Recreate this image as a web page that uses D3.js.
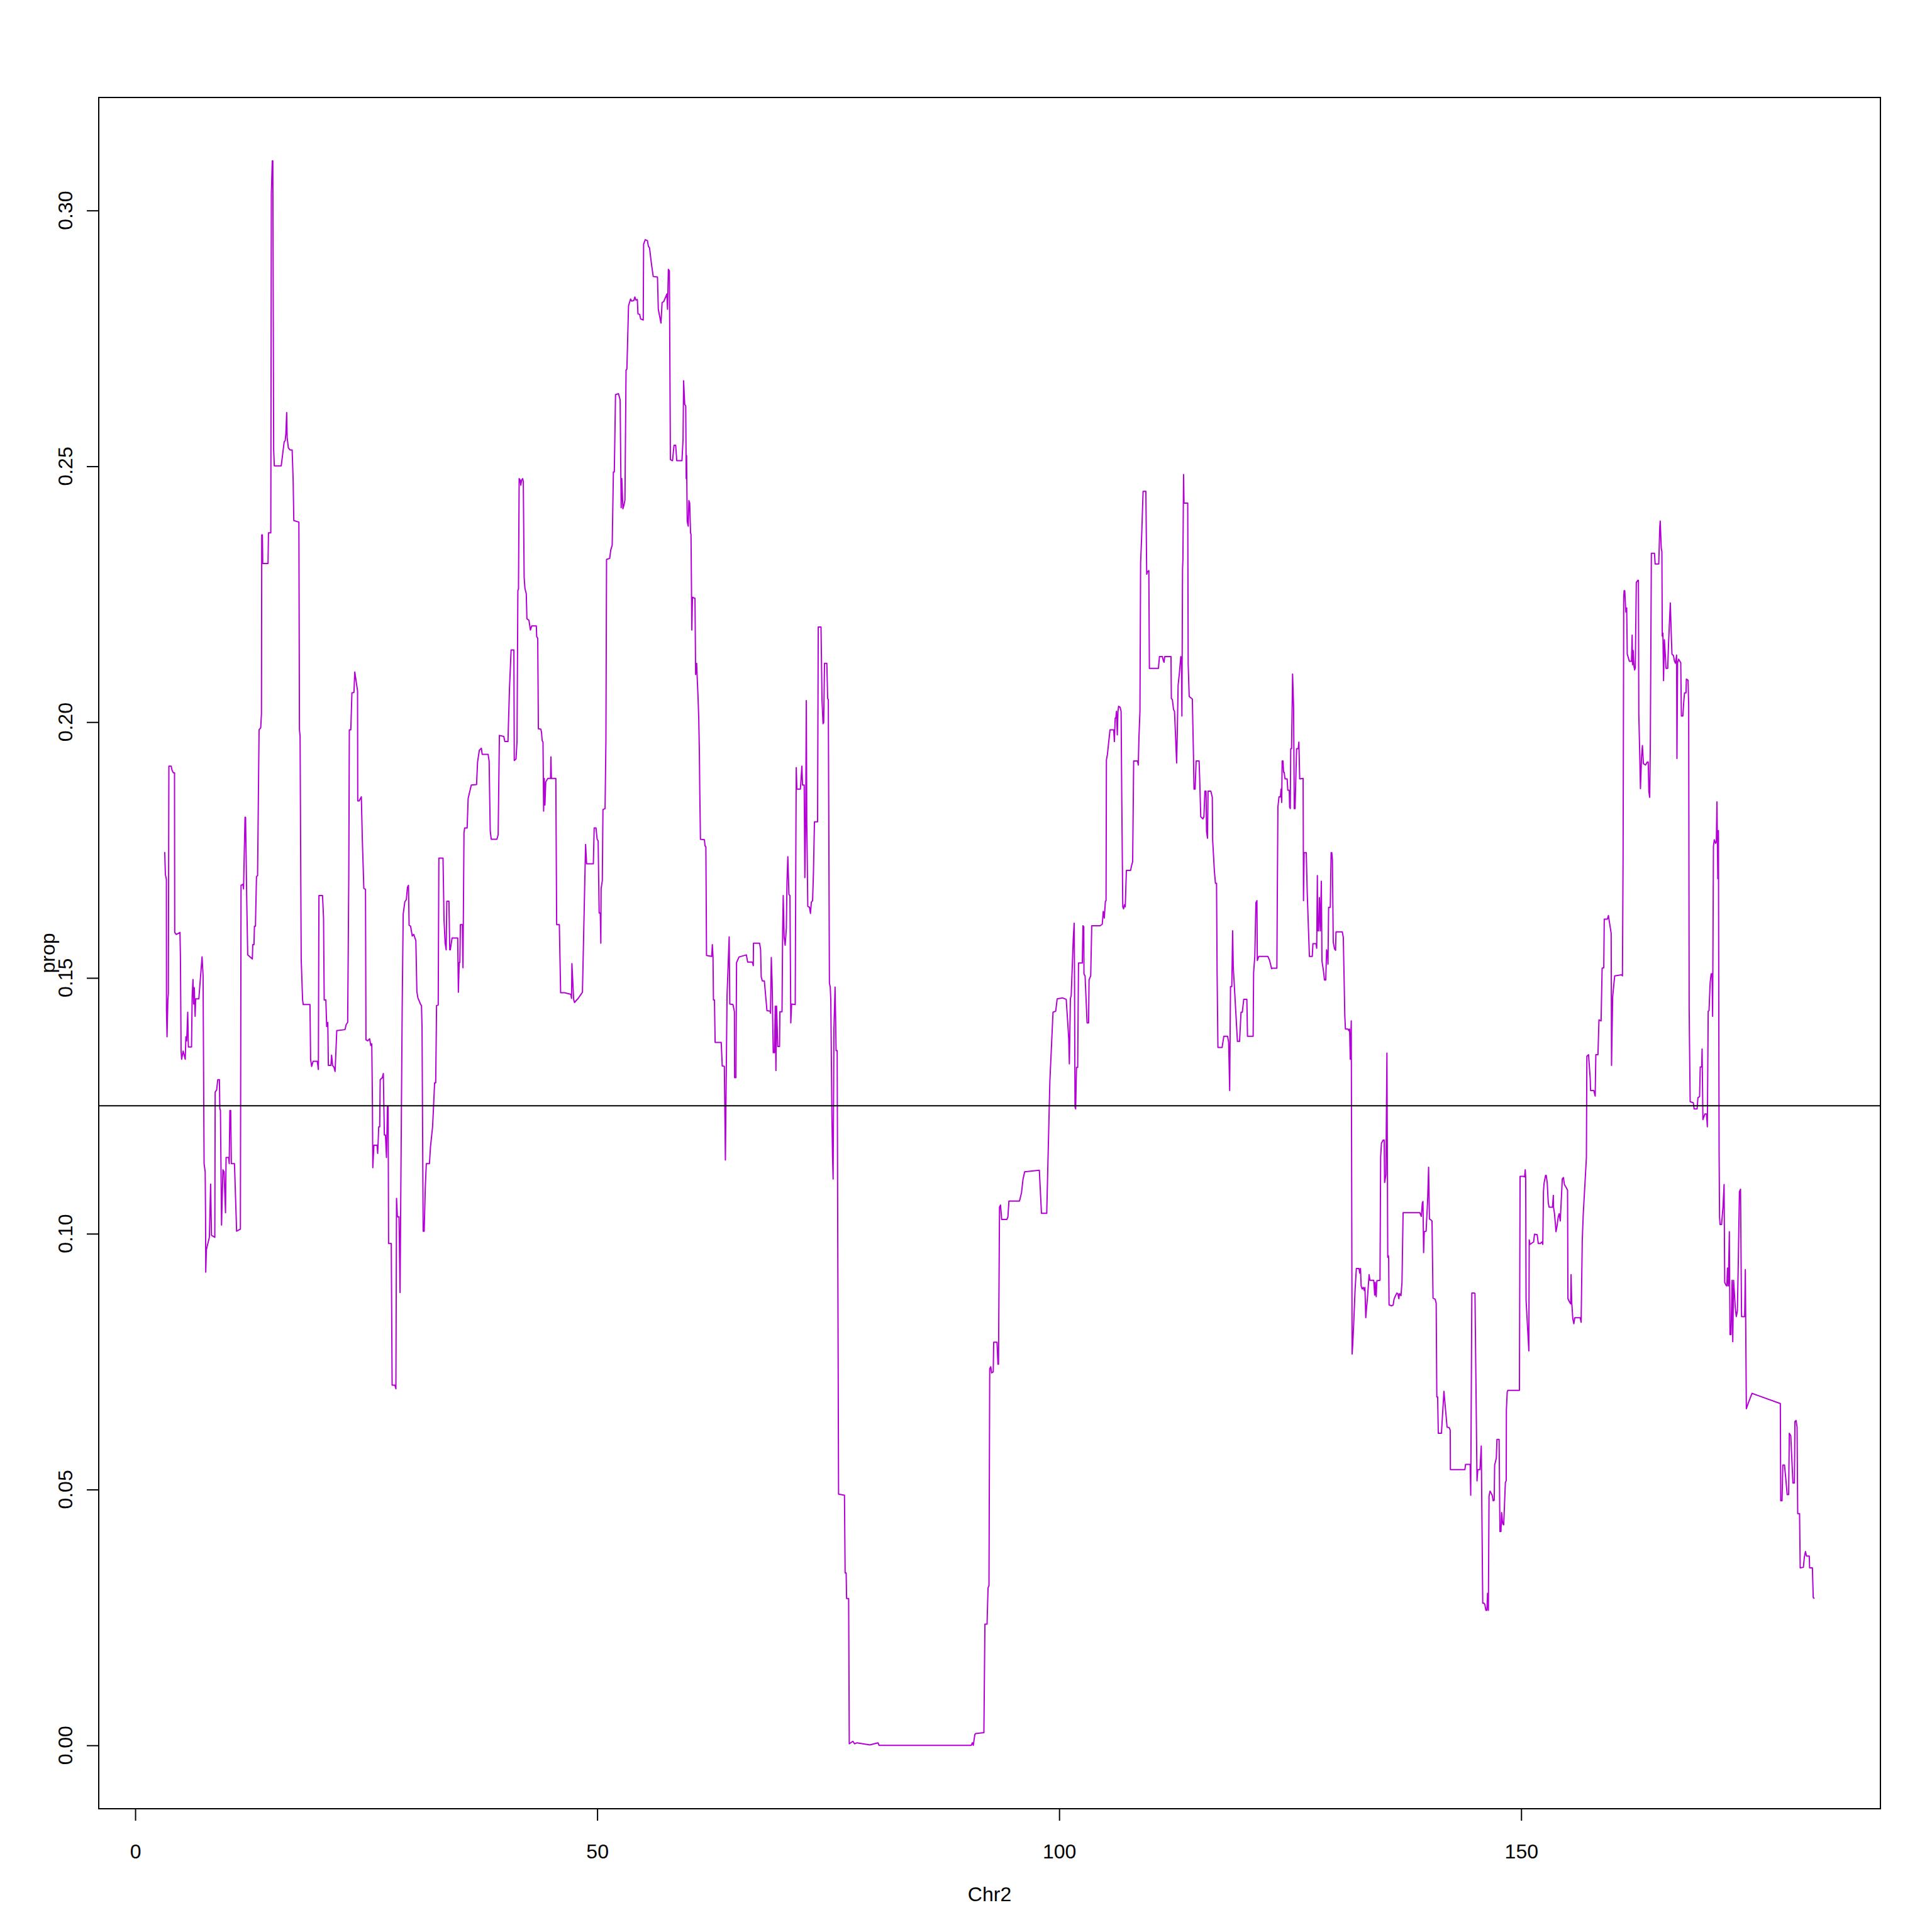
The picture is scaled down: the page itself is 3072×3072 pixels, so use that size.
<!DOCTYPE html>
<html>
<head>
<meta charset="utf-8">
<script src="https://cdn.jsdelivr.net/npm/d3@7"></script>
<style>
  body { margin: 0; background: #fff; }
  text { font-family: "Liberation Sans", Arial, Helvetica, sans-serif; font-size: 32px; fill: #000; }
</style>
</head>
<body>
<div id="chart"></div>
<script>
// position (Mb) and proportion
const track = [
  [3.19,0.1746],[3.26,0.1702],[3.37,0.1693],[3.38,0.1437],[3.44,0.1385],[3.53,0.1457],[3.58,0.1470],[3.64,0.1914],
  [3.89,0.1914],[3.98,0.1906],[4.12,0.1901],[4.25,0.1901],[4.27,0.1589],[4.44,0.1585],[4.84,0.1589],[4.89,0.1541],
  [4.96,0.1357],[5.02,0.1341],[5.18,0.1357],[5.41,0.1341],[5.48,0.1385],[5.57,0.1377],[5.68,0.1433],[5.75,0.1365],
  [6.09,0.1365],[6.16,0.1465],[6.25,0.1497],[6.32,0.1449],[6.39,0.1481],[6.48,0.1425],[6.54,0.1459],[6.88,0.1459],
  [7.23,0.1541],[7.34,0.1505],[7.45,0.1137],[7.57,0.1121],[7.61,0.1033],[7.63,0.0925],[7.70,0.0969],[8.02,0.0993],
  [8.16,0.1097],[8.25,0.0997],[8.61,0.0993],[8.65,0.1277],[8.81,0.1281],[8.93,0.1301],[9.11,0.1301],[9.15,0.1245],
  [9.22,0.1241],[9.34,0.1017],[9.49,0.1125],[9.61,0.1121],[9.77,0.1041],[9.83,0.1149],[10.11,0.1149],[10.17,0.1137],
  [10.24,0.1241],[10.33,0.1241],[10.40,0.1137],[10.74,0.1137],[10.97,0.1005],[11.38,0.1009],[11.45,0.1681],[11.65,0.1683],
  [11.72,0.1674],[11.88,0.1814],[11.94,0.1814],[12.06,0.1661],[12.17,0.1545],[12.67,0.1537],[12.72,0.1565],[12.85,0.1565],
  [12.90,0.1601],[13.01,0.1601],[13.12,0.1698],[13.24,0.1700],[13.40,0.1985],[13.58,0.1989],[13.66,0.2017],[13.69,0.2366],
  [13.76,0.2366],[13.80,0.2310],[14.37,0.2310],[14.42,0.2370],[14.67,0.2370],[14.73,0.3032],[14.83,0.3097],[14.89,0.3097],
  [14.98,0.2532],[15.05,0.2501],[15.80,0.2501],[16.12,0.2548],[16.23,0.2550],[16.30,0.2564],[16.39,0.2605],[16.44,0.2556],
  [16.57,0.2536],[16.75,0.2532],[16.98,0.2532],[17.09,0.2473],[17.16,0.2394],[17.71,0.2391],[17.77,0.1985],[17.84,0.1973],
  [17.96,0.1537],[18.11,0.1457],[18.18,0.1448],[18.91,0.1448],[18.98,0.1341],[19.09,0.1327],[19.25,0.1337],[19.70,0.1337],
  [19.82,0.1321],[19.88,0.1661],[20.27,0.1661],[20.38,0.1617],[20.45,0.1457],[20.63,0.1457],[20.72,0.1405],[20.84,0.1413],
  [20.90,0.1329],[21.18,0.1329],[21.25,0.1349],[21.36,0.1329],[21.52,0.1325],[21.63,0.1317],[21.81,0.1397],[22.70,0.1399],
  [22.83,0.1409],[22.99,0.1413],[23.11,0.1697],[23.17,0.1985],[23.33,0.1985],[23.45,0.2057],[23.67,0.2058],[23.76,0.2098],
  [24.06,0.2061],[24.08,0.1846],[24.24,0.1846],[24.47,0.1854],[24.58,0.1769],[24.74,0.1675],[24.92,0.1673],[24.97,0.1379],
  [25.15,0.1377],[25.37,0.1381],[25.49,0.1368],[25.60,0.1371],[25.67,0.1254],[25.71,0.1129],[25.83,0.1173],[26.17,0.1173],
  [26.24,0.1157],[26.35,0.1209],[26.46,0.1209],[26.51,0.1301],[26.74,0.1305],[26.85,0.1313],[26.96,0.1193],[27.08,0.1193],
  [27.19,0.1149],[27.30,0.1249],[27.37,0.1249],[27.42,0.0981],[27.71,0.0981],[27.80,0.0704],[28.10,0.0704],[28.21,0.0697],
  [28.28,0.1069],[28.37,0.1033],[28.55,0.1033],[28.66,0.0885],[28.89,0.1441],[29.00,0.1625],[29.18,0.1649],[29.34,0.1653],
  [29.46,0.1677],[29.57,0.1681],[29.64,0.1603],[29.80,0.1601],[29.98,0.1582],[30.14,0.1585],[30.37,0.1573],[30.48,0.1473],
  [30.59,0.1461],[30.89,0.1448],[30.98,0.1446],[31.04,0.1402],[31.16,0.1005],[31.27,0.1005],[31.39,0.1089],[31.50,0.1137],
  [31.84,0.1137],[31.95,0.1169],[32.18,0.1209],[32.25,0.1235],[32.40,0.1295],[32.52,0.1295],[32.61,0.1446],[32.79,0.1447],
  [32.86,0.1734],[33.31,0.1734],[33.42,0.1613],[33.54,0.1568],[33.65,0.1555],[33.72,0.1650],[33.95,0.1650],[34.04,0.1555],
  [34.10,0.1555],[34.29,0.1578],[34.90,0.1578],[34.97,0.1472],[35.06,0.1530],[35.13,0.1530],[35.19,0.1604],[35.40,0.1604],
  [35.47,0.1520],[35.58,0.1784],[35.65,0.1793],[35.92,0.1793],[36.03,0.1851],[36.37,0.1877],[36.94,0.1878],[37.05,0.1922],
  [37.24,0.1945],[37.46,0.1949],[37.55,0.1937],[38.19,0.1937],[38.30,0.1924],[38.42,0.1787],[38.53,0.1771],[39.14,0.1771],
  [39.28,0.1780],[39.41,0.1974],[39.89,0.1972],[40.00,0.1962],[40.34,0.1962],[40.50,0.2064],[40.68,0.2141],[40.98,0.2141],
  [41.02,0.1925],[41.21,0.1928],[41.32,0.1962],[41.41,0.2257],[41.48,0.2260],[41.55,0.2476],[41.66,0.2473],[41.73,0.2463],
  [41.82,0.2473],[41.93,0.2476],[42.00,0.2470],[42.09,0.2283],[42.18,0.2261],[42.32,0.2251],[42.39,0.2202],[42.61,0.2199],
  [42.77,0.2180],[42.91,0.2188],[43.41,0.2188],[43.45,0.2167],[43.56,0.2164],[43.63,0.1987],[43.90,0.1986],[43.97,0.1980],
  [44.04,0.1964],[44.13,0.1961],[44.20,0.1826],[44.27,0.1890],[44.34,0.1838],[44.43,0.1883],[44.65,0.1890],[44.95,0.1890],
  [44.99,0.1932],[45.04,0.1890],[45.52,0.1890],[45.61,0.1604],[45.90,0.1604],[46.04,0.1471],[46.47,0.1471],[47.15,0.1468],
  [47.22,0.1460],[47.26,0.1528],[47.45,0.1458],[47.54,0.1452],[47.94,0.1460],[48.17,0.1466],[48.40,0.1472],[48.74,0.1761],
  [48.85,0.1723],[49.58,0.1723],[49.67,0.1793],[49.87,0.1793],[49.99,0.1771],[50.10,0.1768],[50.21,0.1627],[50.33,0.1627],
  [50.39,0.1568],[50.42,0.1674],[50.55,0.1690],[50.62,0.1829],[50.85,0.1831],[50.94,0.1962],[51.01,0.2318],[51.35,0.2320],
  [51.46,0.2336],[51.62,0.2346],[51.75,0.2489],[51.85,0.2489],[51.98,0.2640],[52.30,0.2642],[52.48,0.2630],[52.59,0.2419],
  [52.66,0.2476],[52.78,0.2417],[52.89,0.2424],[53.00,0.2434],[53.12,0.2688],[53.21,0.2690],[53.39,0.2814],[53.61,0.2827],
  [53.73,0.2823],[53.96,0.2824],[54.07,0.2831],[54.18,0.2825],[54.34,0.2826],[54.41,0.2798],[54.59,0.2797],[54.70,0.2788],
  [54.98,0.2786],[55.02,0.2934],[55.20,0.2943],[55.43,0.2941],[55.54,0.2930],[55.66,0.2927],[55.88,0.2894],[56.06,0.2871],
  [56.52,0.2870],[56.61,0.2807],[56.90,0.2780],[57.02,0.2820],[57.20,0.2822],[57.43,0.2832],[57.54,0.2837],[57.61,0.2807],
  [57.70,0.2885],[57.81,0.2882],[57.92,0.2513],[58.15,0.2511],[58.31,0.2541],[58.49,0.2541],[58.61,0.2511],[59.17,0.2511],
  [59.29,0.2553],[59.35,0.2667],[59.47,0.2621],[59.58,0.2618],[59.63,0.2476],[59.67,0.2521],[59.74,0.2392],[59.85,0.2383],
  [59.92,0.2433],[60.01,0.2428],[60.10,0.2370],[60.15,0.2367],[60.24,0.2180],[60.31,0.2244],[60.58,0.2242],[60.65,0.2093],
  [60.76,0.2115],[60.83,0.2083],[60.92,0.2045],[60.99,0.2006],[61.06,0.1935],[61.10,0.1864],[61.17,0.1771],[61.60,0.1770],
  [61.67,0.1758],[61.76,0.1756],[61.83,0.1544],[62.39,0.1542],[62.46,0.1565],[62.53,0.1542],[62.58,0.1457],[62.69,0.1457],
  [62.76,0.1374],[63.42,0.1374],[63.53,0.1328],[63.60,0.1328],[63.76,0.1327],[63.87,0.1144],[64.05,0.1465],[64.28,0.1580],
  [64.35,0.1449],[64.69,0.1448],[64.85,0.1434],[64.87,0.1305],[65.01,0.1305],[65.08,0.1530],[65.35,0.1541],[66.14,0.1545],
  [66.28,0.1531],[66.78,0.1531],[66.89,0.1524],[66.91,0.1568],[67.57,0.1568],[67.68,0.1556],[67.75,0.1502],[67.87,0.1494],
  [68.09,0.1494],[68.37,0.1436],[68.71,0.1435],[68.75,0.1431],[68.84,0.1540],[68.93,0.1490],[69.05,0.1354],[69.18,0.1354],
  [69.27,0.1445],[69.34,0.1319],[69.41,0.1445],[69.54,0.1366],[69.73,0.1366],[69.77,0.1434],[70.00,0.1434],[70.07,0.1593],
  [70.13,0.1661],[70.23,0.1580],[70.34,0.1564],[70.47,0.1597],[70.54,0.1688],[70.63,0.1737],[70.75,0.1663],[70.86,0.1661],
  [70.95,0.1412],[71.04,0.1449],[71.43,0.1448],[71.50,0.1762],[71.54,0.1911],[71.61,0.1869],[71.99,0.1869],[72.15,0.1914],
  [72.22,0.1877],[72.40,0.1877],[72.47,0.1696],[72.56,0.1807],[72.63,0.2042],[72.68,0.1807],[72.79,0.1640],[72.97,0.1638],
  [73.08,0.1626],[73.17,0.1648],[73.31,0.1651],[73.40,0.1704],[73.51,0.1805],[73.85,0.1805],[73.92,0.2186],[74.22,0.2186],
  [74.33,0.2042],[74.44,0.1997],[74.51,0.1999],[74.60,0.2115],[74.85,0.2115],[74.94,0.2046],[75.01,0.2044],[75.13,0.1490],
  [75.22,0.1482],[75.28,0.1457],[75.40,0.1231],[75.47,0.1150],[75.53,0.1107],[75.62,0.1400],[75.74,0.1482],[75.81,0.1412],
  [75.85,0.1358],[75.97,0.1358],[76.12,0.0491],[76.76,0.0489],[76.83,0.0337],[76.94,0.0337],[76.99,0.0287],[77.21,0.0287],
  [77.28,0.0003],[77.67,0.0008],[77.85,0.0003],[78.12,0.0005],[79.50,0.0001],[80.39,0.0005],[80.50,0],[83.00,0],
  [86.00,0],[90.48,0],[90.60,0.0005],[90.70,0],[90.87,0.0021],[90.94,0.0023],[91.85,0.0025],[91.96,0.0237],
  [92.19,0.0237],[92.30,0.0308],[92.40,0.0312],[92.48,0.0736],[92.59,0.0740],[92.68,0.0728],[92.86,0.0730],[92.91,0.0788],
  [93.27,0.0788],[93.37,0.0745],[93.43,0.0745],[93.54,0.1052],[93.65,0.1056],[93.77,0.1028],[94.34,0.1028],[94.45,0.1033],
  [94.56,0.1064],[95.70,0.1064],[95.81,0.1072],[95.92,0.1080],[96.08,0.1106],[96.26,0.1121],[97.85,0.1124],[98.08,0.1040],
  [98.65,0.1040],[98.99,0.1298],[99.33,0.1433],[99.62,0.1435],[99.78,0.1459],[100.35,0.1461],[100.76,0.1458],[100.91,0.1416],
  [101.03,0.1382],[101.10,0.1332],[101.21,0.1459],[101.30,0.1466],[101.53,0.1580],[101.62,0.1607],[101.66,0.1496],[101.71,0.1248],
  [101.78,0.1244],[101.87,0.1325],[102.00,0.1325],[102.09,0.1529],[102.50,0.1529],[102.57,0.1602],[102.66,0.1600],[102.68,0.1508],
  [102.80,0.1504],[103.02,0.1412],[103.18,0.1412],[103.23,0.1496],[103.41,0.1504],[103.52,0.1602],[104.43,0.1602],[104.66,0.1605],
  [104.77,0.1630],[104.88,0.1617],[105.00,0.1650],[105.07,0.1651],[105.11,0.1926],[105.22,0.1937],[105.34,0.1958],[105.50,0.1985],
  [105.90,0.1985],[105.97,0.1962],[106.06,0.2008],[106.13,0.2008],[106.20,0.2021],[106.29,0.1975],[106.36,0.2021],[106.43,0.2031],
  [106.59,0.2029],[106.70,0.2021],[106.77,0.1853],[106.88,0.1639],[106.97,0.1635],[107.06,0.1643],[107.15,0.1639],[107.27,0.1710],
  [107.72,0.1710],[107.84,0.1720],[107.95,0.1727],[108.06,0.1924],[108.47,0.1924],[108.56,0.1916],[108.63,0.1970],[108.74,0.2021],
  [108.81,0.2310],[108.92,0.2361],[109.08,0.2451],[109.38,0.2451],[109.47,0.2289],[109.56,0.2294],[109.70,0.2296],[109.76,0.2105],
  [110.74,0.2105],[110.85,0.2128],[111.17,0.2128],[111.26,0.2121],[111.35,0.2117],[111.42,0.2128],[112.10,0.2128],[112.14,0.2046],
  [112.25,0.2044],[112.37,0.2025],[112.48,0.2021],[112.60,0.1970],[112.71,0.1920],[112.78,0.1979],[112.87,0.2072],[113.01,0.2096],
  [113.16,0.2128],[113.23,0.2122],[113.28,0.2012],[113.35,0.2298],[113.39,0.2319],[113.46,0.2484],[113.51,0.2428],[113.91,0.2428],
  [113.96,0.2113],[114.07,0.2050],[114.41,0.2045],[114.53,0.1937],[114.59,0.1869],[114.71,0.1869],[114.82,0.1924],[115.14,0.1924],
  [115.21,0.1886],[115.32,0.1815],[115.55,0.1811],[115.66,0.1815],[115.77,0.1865],[115.89,0.1865],[115.95,0.1786],[116.05,0.1773],
  [116.11,0.1865],[116.41,0.1865],[116.57,0.1853],[116.61,0.1769],[116.79,0.1710],[116.91,0.1685],[117.03,0.1685],[117.09,0.1508],
  [117.18,0.1364],[117.63,0.1364],[117.82,0.1386],[118.22,0.1386],[118.34,0.1374],[118.45,0.1280],[118.54,0.1483],[118.68,0.1483],
  [118.77,0.1592],[118.84,0.1521],[119.00,0.1470],[119.29,0.1376],[119.52,0.1376],[119.68,0.1433],[119.82,0.1433],[119.97,0.1458],
  [120.31,0.1458],[120.38,0.1386],[120.99,0.1386],[121.04,0.1510],[121.17,0.1542],[121.29,0.1647],[121.40,0.1651],[121.44,0.1534],
  [121.60,0.1542],[122.58,0.1542],[122.76,0.1535],[122.99,0.1518],[123.04,0.1519],[123.56,0.1519],[123.60,0.1645],[123.67,0.1834],
  [123.79,0.1854],[123.94,0.1854],[124.01,0.1869],[124.08,0.1843],[124.13,0.1924],[124.22,0.1924],[124.29,0.1902],[124.35,0.1902],
  [124.44,0.1889],[124.67,0.1889],[124.74,0.1867],[124.90,0.1867],[124.94,0.1834],[125.01,0.1831],[125.06,0.1948],[125.15,0.1948],
  [125.26,0.2094],[125.37,0.2029],[125.44,0.1831],[125.53,0.1831],[125.69,0.1948],[125.87,0.1948],[125.94,0.1961],[126.03,0.1889],
  [126.40,0.1890],[126.44,0.1651],[126.51,0.1745],[126.74,0.1745],[126.85,0.1663],[127.08,0.1542],[127.39,0.1542],[127.46,0.1567],
  [127.80,0.1567],[127.87,0.1558],[127.94,0.1700],[127.98,0.1592],[128.07,0.1592],[128.16,0.1657],[128.26,0.1592],[128.37,0.1689],
  [128.44,0.1533],[128.60,0.1514],[128.71,0.1496],[128.85,0.1496],[128.94,0.1555],[129.05,0.1545],[129.09,0.1527],[129.16,0.1638],
  [129.34,0.1638],[129.43,0.1745],[129.50,0.1745],[129.57,0.1731],[129.66,0.1570],[129.80,0.1557],[129.91,0.1554],[129.96,0.1590],
  [130.64,0.1590],[130.75,0.1579],[130.91,0.1427],[130.98,0.1400],[131.25,0.1400],[131.34,0.1397],[131.43,0.1400],[131.50,0.1341],
  [131.61,0.1416],[131.70,0.0765],[131.77,0.0783],[131.88,0.0827],[132.02,0.0889],[132.16,0.0932],[132.45,0.0932],[132.52,0.0923],
  [132.61,0.0932],[132.68,0.0898],[132.79,0.0892],[132.91,0.0895],[133.02,0.0889],[133.09,0.0895],[133.18,0.0836],[133.25,0.0852],
  [133.36,0.0874],[133.54,0.0920],[133.63,0.0909],[134.04,0.0909],[134.15,0.0880],[134.20,0.0905],[134.31,0.0877],[134.38,0.0908],
  [134.72,0.0909],[134.79,0.1150],[134.88,0.1177],[135.06,0.1183],[135.17,0.1183],[135.22,0.1100],[135.36,0.1115],[135.47,0.1353],
  [135.56,0.0954],[135.63,0.0957],[135.66,0.0951],[135.70,0.0861],[135.97,0.0859],[136.15,0.0861],[136.24,0.0872],[136.35,0.0877],
  [136.54,0.0884],[136.65,0.0883],[136.76,0.0873],[136.83,0.0883],[136.99,0.0879],[137.10,0.0905],[137.22,0.1041],[139.03,0.1041],
  [139.19,0.1034],[139.30,0.1060],[139.37,0.1063],[139.44,0.0963],[139.51,0.1004],[139.71,0.1005],[139.87,0.1063],[139.98,0.1130],
  [140.07,0.1029],[140.23,0.1027],[140.35,0.1025],[140.46,0.0874],[140.69,0.0872],[140.80,0.0864],[140.87,0.0681],[140.96,0.0681],
  [141.03,0.0610],[141.37,0.0610],[141.64,0.0692],[141.98,0.0622],[142.21,0.0621],[142.32,0.0616],[142.34,0.0539],[143.91,0.0539],
  [143.98,0.0549],[144.48,0.0549],[144.54,0.0489],[144.66,0.0884],[144.93,0.0884],[145.00,0.0883],[145.22,0.0517],[145.31,0.0539],
  [145.54,0.0539],[145.68,0.0585],[145.84,0.0278],[145.95,0.0278],[146.06,0.0276],[146.18,0.0264],[146.29,0.0264],[146.36,0.0297],
  [146.45,0.0264],[146.52,0.0487],[146.63,0.0497],[146.86,0.0489],[146.97,0.0478],[147.08,0.0479],[147.13,0.0548],[147.31,0.0561],
  [147.38,0.0598],[147.61,0.0598],[147.70,0.0418],[147.81,0.0418],[147.88,0.0455],[148.00,0.0433],[148.11,0.0431],[148.29,0.0514],
  [148.38,0.0517],[148.40,0.0656],[148.49,0.0691],[148.56,0.0694],[149.81,0.0694],[149.88,0.1112],[150.26,0.1112],[150.37,0.1111],
  [150.44,0.1125],[150.49,0.1109],[150.53,0.0870],[150.83,0.0771],[150.87,0.0988],[150.94,0.0979],[151.35,0.0984],[151.44,0.0999],
  [151.73,0.0998],[151.85,0.0981],[152.07,0.0981],[152.25,0.0984],[152.34,0.0979],[152.41,0.1082],[152.48,0.1099],[152.64,0.1114],
  [152.71,0.1114],[152.82,0.1099],[152.93,0.1061],[153.02,0.1052],[153.39,0.1052],[153.48,0.1075],[153.50,0.1052],[153.61,0.1039],
  [153.77,0.1004],[153.88,0.1015],[154.00,0.1032],[154.11,0.1039],[154.23,0.1025],[154.45,0.1107],[154.57,0.1110],[154.68,0.1096],
  [154.91,0.1089],[155.02,0.1085],[155.06,0.0873],[155.25,0.0866],[155.36,0.0863],[155.40,0.0920],[155.47,0.0866],[155.59,0.0834],
  [155.70,0.0824],[155.81,0.0836],[156.38,0.0836],[156.49,0.0827],[156.61,0.0986],[156.72,0.1039],[157.06,0.1149],[157.11,0.1347],
  [157.29,0.1350],[157.47,0.1304],[157.51,0.1280],[157.86,0.1280],[158.01,0.1269],[158.08,0.1350],[158.31,0.1350],[158.42,0.1418],
  [158.65,0.1416],[158.76,0.1519],[158.94,0.1520],[158.99,0.1615],[159.33,0.1615],[159.44,0.1622],[159.56,0.1608],[159.74,0.1587],
  [159.78,0.1329],[159.90,0.1463],[160.12,0.1504],[160.87,0.1506],[160.96,0.1504],[161.03,0.1739],[161.10,0.2244],[161.14,0.2257],
  [161.21,0.2257],[161.33,0.2215],[161.42,0.2223],[161.48,0.2133],[161.64,0.2123],[161.71,0.2119],[161.94,0.2119],[162.01,0.2170],
  [162.05,0.2112],[162.12,0.2140],[162.21,0.2109],[162.28,0.2102],[162.35,0.2106],[162.46,0.2273],[162.62,0.2277],[162.69,0.2277],
  [162.73,0.2016],[162.82,0.1947],[162.91,0.1870],[163.03,0.1933],[163.12,0.1954],[163.23,0.1919],[163.46,0.1916],[163.64,0.1922],
  [163.75,0.1922],[163.82,0.1864],[163.91,0.1853],[163.98,0.1960],[164.09,0.2330],[164.43,0.2330],[164.50,0.2309],[164.89,0.2309],
  [165.00,0.2382],[165.05,0.2393],[165.16,0.2340],[165.23,0.2333],[165.27,0.2168],[165.34,0.2174],[165.41,0.2081],[165.50,0.2161],
  [165.57,0.2140],[165.68,0.2105],[165.86,0.2105],[165.95,0.2154],[166.14,0.2233],[166.25,0.2168],[166.32,0.2133],[166.48,0.2130],
  [166.59,0.2119],[166.70,0.2115],[166.82,0.2131],[166.86,0.1929],[166.93,0.2116],[167.04,0.2123],[167.27,0.2116],[167.34,0.2012],
  [167.50,0.2012],[167.61,0.2043],[167.68,0.2057],[167.84,0.2057],[167.88,0.2084],[168.06,0.2082],[168.13,0.2033],[168.18,0.1442],
  [168.22,0.1372],[168.29,0.1258],[168.63,0.1256],[168.72,0.1244],[169.04,0.1244],[169.13,0.1266],[169.31,0.1268],[169.38,0.1326],
  [169.54,0.1326],[169.58,0.1361],[169.67,0.1223],[169.88,0.1234],[170.06,0.1234],[170.15,0.1209],[170.24,0.1435],[170.33,0.1436],
  [170.45,0.1490],[170.56,0.1508],[170.66,0.1508],[170.72,0.1425],[170.81,0.1757],[170.90,0.1770],[171.04,0.1763],[171.12,0.1766],
  [171.19,0.1844],[171.28,0.1694],[171.35,0.1788],[171.42,0.1160],[171.47,0.1032],[171.53,0.1018],[171.69,0.1018],[171.85,0.1054],
  [171.96,0.1096],[172.03,0.0905],[172.15,0.0900],[172.26,0.0898],[172.33,0.0933],[172.42,0.0898],[172.53,0.1004],[172.60,0.0803],
  [172.71,0.0803],[172.83,0.0909],[172.90,0.0789],[172.99,0.0909],[173.17,0.0856],[173.28,0.0838],[173.40,0.0849],[173.51,0.0955],
  [173.62,0.1082],[173.74,0.1087],[173.85,0.0838],[174.19,0.0838],[174.26,0.0930],[174.37,0.0658],[174.64,0.0672],[174.98,0.0688],
  [178.05,0.0668],[178.09,0.0478],[178.23,0.0478],[178.32,0.0548],[178.50,0.0548],[178.66,0.0517],[178.79,0.0490],[178.95,0.0490],
  [179.02,0.0610],[179.18,0.0605],[179.41,0.0513],[179.57,0.0513],[179.63,0.0633],[179.75,0.0635],[179.86,0.0622],[179.93,0.0453],
  [180.13,0.0453],[180.20,0.0347],[180.54,0.0348],[180.65,0.0368],[180.77,0.0379],[180.88,0.0370],[181.18,0.0370],[181.22,0.0347],
  [181.52,0.0347],[181.61,0.0289],[181.74,0.0287]
];

const xTicks = [0, 50, 100, 150];
const yTicks = [0, 0.05, 0.10, 0.15, 0.20, 0.25, 0.30];
const cutoff = 0.125;
const xTitle = "Chr2";
const yTitle = "prop";
const lineColor = "#b300d4";

const W = 3072, H = 3072;
const margin = {top: 155, right: 82, bottom: 196, left: 157};
const plotLeft = margin.left, plotRight = W - margin.right;
const plotTop = margin.top, plotBottom = H - margin.bottom;

// R style range: data extent padded by 4% each side
function pad(ext) {
  const r = ext[1] - ext[0];
  return [ext[0] - 0.04 * r, ext[1] + 0.04 * r];
}

const x = d3.scaleLinear().domain(pad(d3.extent(track, d => d[0]))).range([plotLeft, plotRight]);
const y = d3.scaleLinear().domain(pad(d3.extent(track, d => d[1]))).range([plotBottom, plotTop]);

const svg = d3.select("#chart").append("svg")
    .attr("width", W)
    .attr("height", H)
    .style("background", "#fff");

svg.append("rect").attr("width", W).attr("height", H).attr("fill", "#fff");

// the series
const line = d3.line().x(d => x(d[0])).y(d => y(d[1]));
svg.append("path")
    .datum(track)
    .attr("d", line)
    .attr("fill", "none")
    .attr("stroke", lineColor)
    .attr("stroke-width", 2)
    .attr("stroke-linejoin", "round");

// threshold line
svg.append("line")
    .attr("x1", plotLeft).attr("x2", plotRight)
    .attr("y1", y(cutoff)).attr("y2", y(cutoff))
    .attr("stroke", "#000").attr("stroke-width", 2);

// box
svg.append("rect")
    .attr("x", plotLeft).attr("y", plotTop)
    .attr("width", plotRight - plotLeft).attr("height", plotBottom - plotTop)
    .attr("fill", "none").attr("stroke", "#000").attr("stroke-width", 2);

// x axis
const gx = svg.append("g")
    .attr("transform", "translate(0," + plotBottom + ")")
    .call(d3.axisBottom(x).tickValues(xTicks).tickSize(19).tickSizeOuter(0).tickPadding(37));
gx.select(".domain").remove();
gx.selectAll(".tick line").attr("stroke", "#000").attr("stroke-width", 2);
gx.attr("font-size", null).attr("font-family", null);

// y axis, ticks only; labels rotated like R
const gy = svg.append("g")
    .attr("transform", "translate(" + plotLeft + ",0)")
    .call(d3.axisLeft(y).tickValues(yTicks).tickSize(19).tickSizeOuter(0).tickFormat(""));
gy.select(".domain").remove();
gy.selectAll(".tick line").attr("stroke", "#000").attr("stroke-width", 2);

svg.append("g").selectAll("text")
    .data(yTicks)
    .join("text")
    .attr("transform", d => "translate(115," + y(d) + ") rotate(-90)")
    .attr("text-anchor", "middle")
    .text(d3.format(".2f"));

// axis titles
svg.append("text")
    .attr("x", (plotLeft + plotRight) / 2)
    .attr("y", 3023)
    .attr("text-anchor", "middle")
    .text(xTitle);

svg.append("text")
    .attr("transform", "translate(87," + (plotTop + plotBottom) / 2 + ") rotate(-90)")
    .attr("text-anchor", "middle")
    .text(yTitle);
</script>
</body>
</html>
